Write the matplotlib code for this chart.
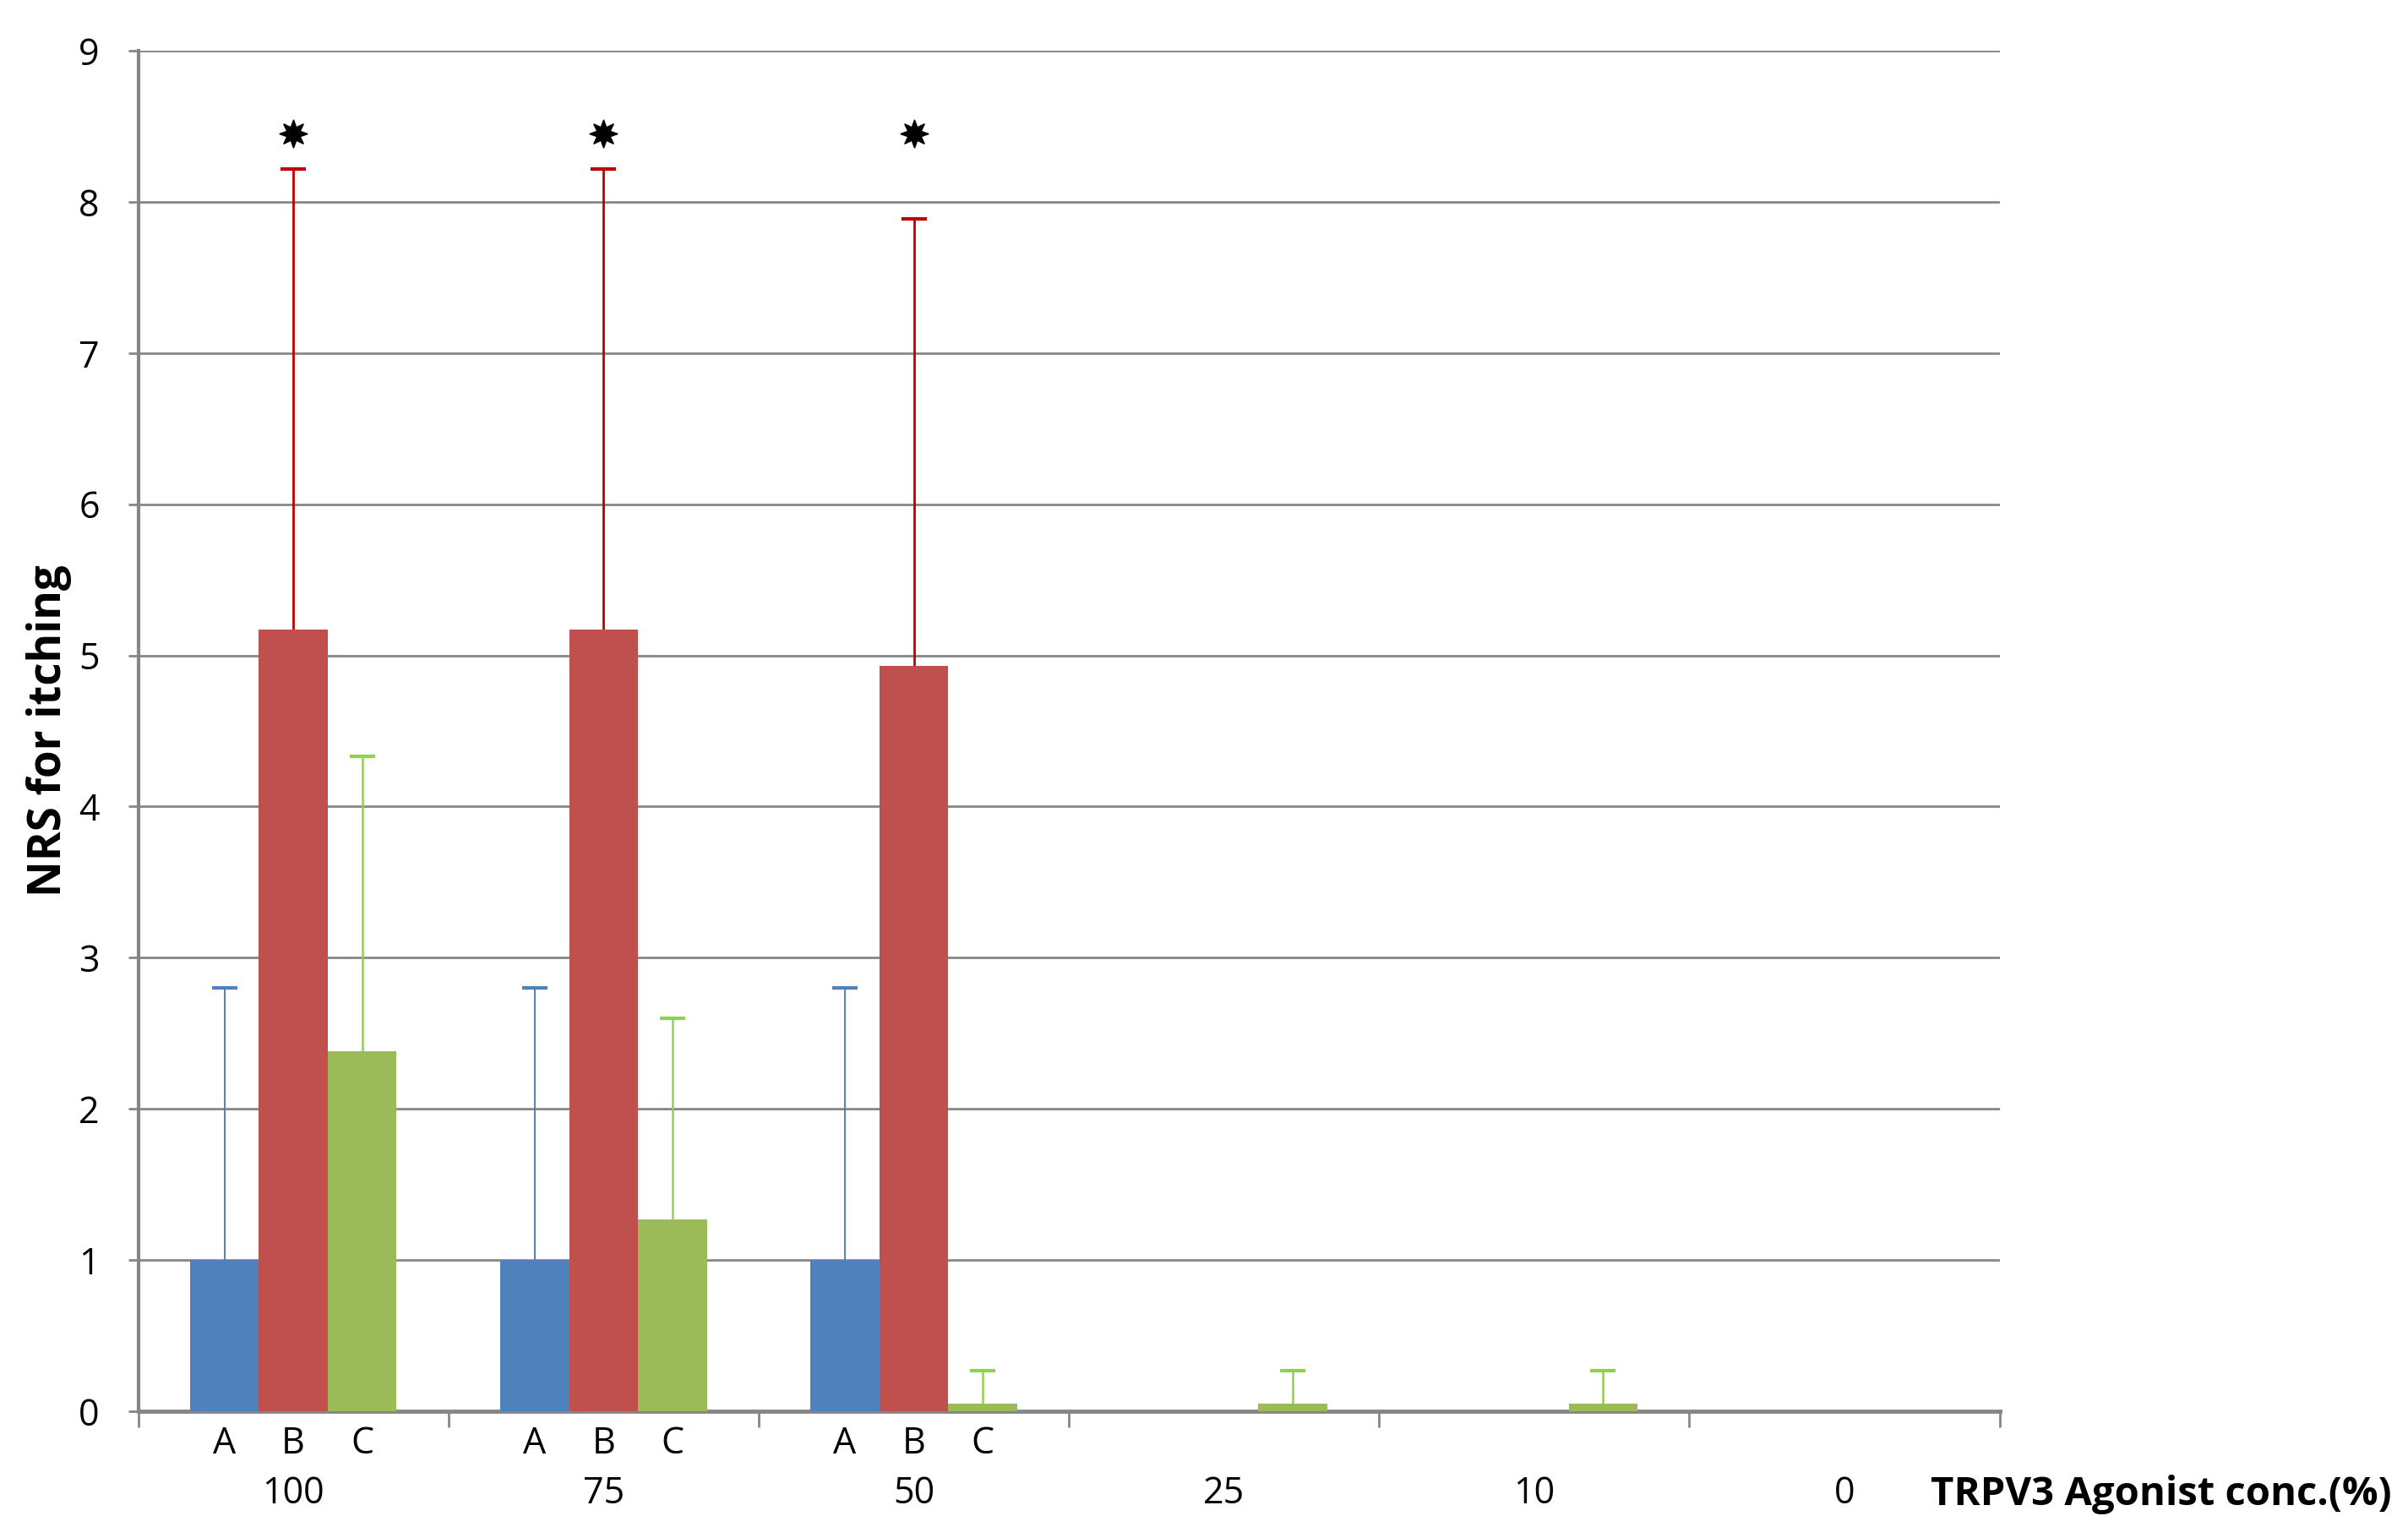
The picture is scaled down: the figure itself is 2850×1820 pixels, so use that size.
import numpy as np
import matplotlib
matplotlib.use("Agg")
import matplotlib.pyplot as plt
from matplotlib.transforms import blended_transform_factory

plt.rcParams['font.family'] = ['Open Sans', 'DejaVu Sans']

# ---- data ----
categories = ["100", "75", "50", "25", "10", "0"]
groups = ["A", "B", "C"]
values_A = [1.0, 1.0, 1.0, 0.0, 0.0, 0.0]
values_B = [5.17, 5.17, 4.93, 0.0, 0.0, 0.0]
values_C = [2.38, 1.27, 0.05, 0.05, 0.05, 0.0]
err_A = [1.8, 1.8, 1.8, None, None, None]
err_B = [3.05, 3.05, 2.96, None, None, None]
err_C = [1.95, 1.33, 0.22, 0.22, 0.22, None]
star_level = [8.45, 8.45, 8.45, None, None, None]
sub_label_cats = [0, 1, 2]
y_ticks = list(range(0, 10))
y_label = "NRS for itching"
x_label = "TRPV3 Agonist conc.(%)"

colors = ["#4F81BD", "#C0504D", "#9BBB59"]
err_colors = ["#4F81BD", "#C00000", "#92D050"]
err_lw = [1.4, 2.0, 1.8]

fig = plt.figure(figsize=(28.5, 18.2), dpi=100)
ax = fig.add_axes([0.0574, 0.0824, 0.7730, 0.8846])

n = len(categories)
centers = np.arange(n) + 0.5
width = 0.222
offsets = [-width, 0.0, width]
series = [values_A, values_B, values_C]
errs = [err_A, err_B, err_C]

for k in range(3):
    xs = centers + offsets[k]
    ax.bar(xs, series[k], width=width, color=colors[k], zorder=3, linewidth=0)
    idx = [i for i in range(n) if errs[k][i] is not None]
    ex = xs[idx]
    ey = np.array(series[k])[idx]
    ee = np.array([errs[k][i] for i in idx])
    _, caps, _ = ax.errorbar(ex, ey, yerr=[np.zeros_like(ee), ee], fmt='none',
                             ecolor=err_colors[k], elinewidth=err_lw[k],
                             capsize=11, capthick=3, zorder=2)
    # hide the lower caps (only plus-direction error bars)
    for cl in caps:
        yd = np.asarray(cl.get_ydata())
        if np.allclose(yd, ey):
            cl.set_visible(False)

# significance stars
sidx = [i for i in range(n) if star_level[i] is not None]
ax.plot(centers[sidx], [star_level[i] for i in sidx], linestyle='none',
        marker=(8, 1, 0), markersize=24, color='black', zorder=4)

ax.set_xlim(0, n)
ax.set_ylim(0, 9)
ax.set_yticks(y_ticks)
ax.set_yticklabels([str(t) for t in y_ticks], fontsize=31)
ax.tick_params(axis='y', length=9, width=2, color='#868686', pad=24)
ax.yaxis.grid(True, color='#868686', linewidth=2.0, zorder=0)
ax.set_axisbelow(True)

ax.set_xticks(np.arange(0, n + 1))
ax.set_xticklabels([])
ax.tick_params(axis='x', length=14, width=2, color='#868686', direction='out')

for s in ['top', 'right']:
    ax.spines[s].set_visible(False)
ax.spines['left'].set_color('#868686')
ax.spines['left'].set_linewidth(3)
ax.spines['bottom'].set_color('#868686')
ax.spines['bottom'].set_linewidth(3.5)

trans = blended_transform_factory(ax.transData, ax.transAxes)
for i in sub_label_cats:
    for k, g in enumerate(groups):
        ax.text(centers[i] + offsets[k], -0.024, g, transform=trans,
                ha='center', va='center', fontsize=31)
for i, c in enumerate(categories):
    ax.text(centers[i], -0.061, c, transform=trans, ha='center',
            va='center', fontsize=31)

ax.text(0.963, -0.061, x_label, transform=ax.transAxes,
        ha='left', va='center', fontsize=34, fontweight='bold')
ax.set_ylabel(y_label, fontsize=38, fontweight='bold', labelpad=6)

fig.savefig("out.png", dpi=100)
